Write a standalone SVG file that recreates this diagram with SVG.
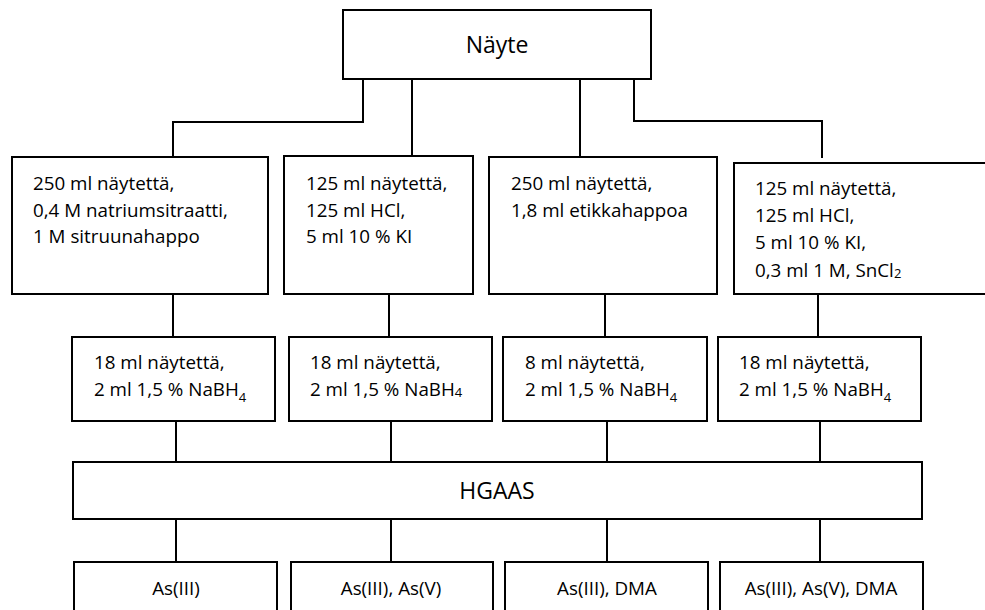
<svg xmlns="http://www.w3.org/2000/svg" width="985" height="610" viewBox="0 0 985 610">
<style>
.box{fill:#fff;stroke:#000;stroke-width:2}
.ln{fill:none;stroke:#000;stroke-width:2}
text{font-family:"Open Sans","Noto Sans","Liberation Sans",sans-serif;fill:#000}
.t{font-size:18.8px}
.big{font-size:23px;text-anchor:middle}
.c{font-size:18.8px;text-anchor:middle}
.sub{font-size:13px}
</style>
<rect width="985" height="610" fill="#fff"/>
<g id="connectors">
<path class="ln" d="M363,79 V122 H173 V157"/>
<path class="ln" d="M412,79 V156"/>
<path class="ln" d="M580,79 V157"/>
<path class="ln" d="M634,79 V121 H822 V158"/>
<path class="ln" d="M173,294 V337 M389,294 V337 M605,294 V337 M818,294 V337"/>
<path class="ln" d="M176,421 V462 M391,421 V462 M607,421 V462 M820,421 V462"/>
<path class="ln" d="M176,519 V562 M391,519 V562 M607,519 V562 M820,519 V562"/>
</g>
<g id="nayte">
<rect class="box" x="343" y="10" width="308" height="69"/>
<text class="big" x="497" y="53">Näyte</text>
</g>
<g id="a1">
<rect class="box" x="12" y="157" width="256" height="137"/>
<text class="t" x="33" y="190">250 ml näytettä,</text>
<text class="t" x="33" y="216.5">0,4 M natriumsitraatti,</text>
<text class="t" x="33" y="243">1 M sitruunahappo</text>
</g>
<g id="a2">
<rect class="box" x="284" y="156" width="189" height="138"/>
<text class="t" x="306" y="190">125 ml näytettä,</text>
<text class="t" x="306" y="216.5">125 ml HCl,</text>
<text class="t" x="306" y="243">5 ml 10 % KI</text>
</g>
<g id="a3">
<rect class="box" x="489" y="157" width="228" height="137"/>
<text class="t" x="511" y="190">250 ml näytettä,</text>
<text class="t" x="511" y="217">1,8 ml etikkahappoa</text>
</g>
<g id="a4">
<rect class="box" x="734" y="163" width="260" height="131"/>
<text class="t" x="755" y="195">125 ml näytettä,</text>
<text class="t" x="755" y="222">125 ml HCl,</text>
<text class="t" x="755" y="249">5 ml 10 % KI,</text>
<text class="t" x="755" y="277">0,3 ml 1 M, SnCl<tspan class="sub" dy="1">2</tspan></text>
</g>
<g id="b1">
<rect class="box" x="72" y="337" width="203" height="84"/>
<text class="t" x="94" y="369">18 ml näytettä,</text>
<text class="t" x="94" y="396">2 ml 1,5 % NaBH<tspan class="sub" dy="6">4</tspan></text>
</g>
<g id="b2">
<rect class="box" x="289" y="337" width="203" height="84"/>
<text class="t" x="310" y="369">18 ml näytettä,</text>
<text class="t" x="310" y="396">2 ml 1,5 % NaBH<tspan class="sub" dy="1">4</tspan></text>
</g>
<g id="b3">
<rect class="box" x="503" y="337" width="204" height="84"/>
<text class="t" x="525" y="369">8 ml näytettä,</text>
<text class="t" x="525" y="396">2 ml 1,5 % NaBH<tspan class="sub" dy="6">4</tspan></text>
</g>
<g id="b4">
<rect class="box" x="718" y="337" width="203" height="84"/>
<text class="t" x="739" y="369">18 ml näytettä,</text>
<text class="t" x="739" y="396">2 ml 1,5 % NaBH<tspan class="sub" dy="6">4</tspan></text>
</g>
<g id="hgaas">
<rect class="box" x="73" y="462" width="849" height="57"/>
<text class="big" x="497" y="499">HGAAS</text>
</g>
<g id="c1">
<rect class="box" x="74" y="562" width="203" height="60"/>
<text class="c" x="176" y="595">As(III)</text>
</g>
<g id="c2">
<rect class="box" x="291" y="562" width="202" height="60"/>
<text class="c" x="391" y="595">As(III), As(V)</text>
</g>
<g id="c3">
<rect class="box" x="505" y="562" width="203" height="60"/>
<text class="c" x="607" y="595">As(III), DMA</text>
</g>
<g id="c4">
<rect class="box" x="720" y="562" width="203" height="60"/>
<text class="c" x="821" y="595">As(III), As(V), DMA</text>
</g>
</svg>
